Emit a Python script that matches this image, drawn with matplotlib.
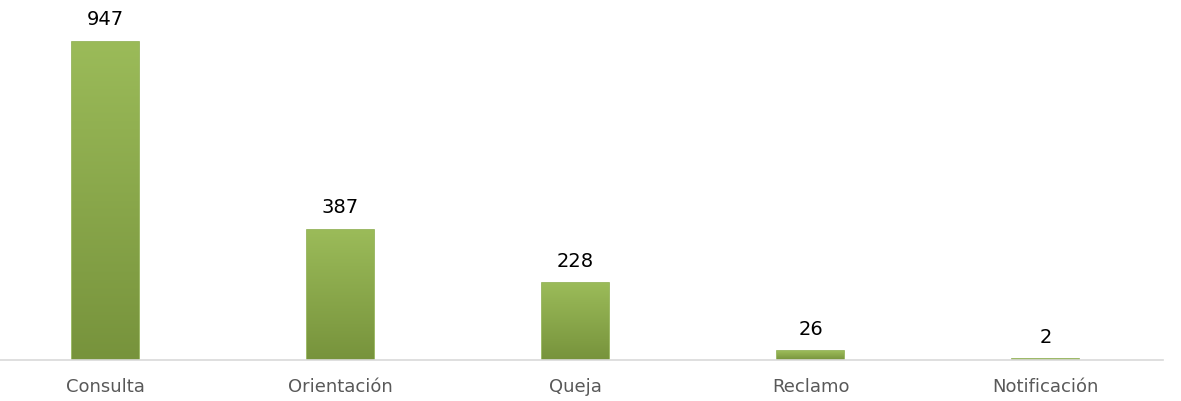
import numpy as np
import matplotlib.pyplot as plt
from matplotlib.colors import LinearSegmentedColormap

categories = ['Consulta', 'Orientación', 'Queja', 'Reclamo', 'Notificación']
values = [947, 387, 228, 26, 2]

W, H = 1181, 401
fig = plt.figure(figsize=(W / 100, H / 100), dpi=100)
# axes placed in pixel terms: categories span -12..1163, baseline at y=360
left, right = -12, 1163
ax = fig.add_axes([left / W, (H - 360) / H, (right - left) / W, 335.8 / H])

bar_w = 0.285
x = np.arange(len(categories))
# solid base so very small bars still show up, gradient painted on top
bars = ax.bar(x, values, width=bar_w, color='#8BAD4B', edgecolor='#8BAD4B',
              linewidth=1.2, zorder=1)

cmap = LinearSegmentedColormap.from_list('grn', ['#77933C', '#9BBB59'])
grad = np.linspace(0, 1, 256).reshape(-1, 1)
for b in bars:
    x0, y0 = b.get_x(), b.get_y()
    w, h = b.get_width(), b.get_height()
    im = ax.imshow(grad, cmap=cmap, origin='lower', aspect='auto',
                   extent=[x0, x0 + w, y0, y0 + h], zorder=2)
    im.set_clip_path(b)

for xi, v in zip(x, values):
    ax.annotate(str(v), (xi, v), xytext=(0, 16), textcoords='offset points',
                ha='center', va='center', fontsize=14, color='black',
                annotation_clip=False)

ax.set_xlim(-0.5, len(categories) - 0.5)
ax.set_ylim(0, 1000)
ax.set_xticks(x)
ax.set_xticklabels(categories, fontsize=13, color='#595959')
ax.tick_params(axis='x', length=0, pad=13)
ax.set_yticks([])
for s in ['top', 'right', 'left']:
    ax.spines[s].set_visible(False)
ax.spines['bottom'].set_color('#D9D9D9')
ax.spines['bottom'].set_linewidth(1.2)
ax.spines['bottom'].set_zorder(3)

fig.savefig('out.png', dpi=100)
